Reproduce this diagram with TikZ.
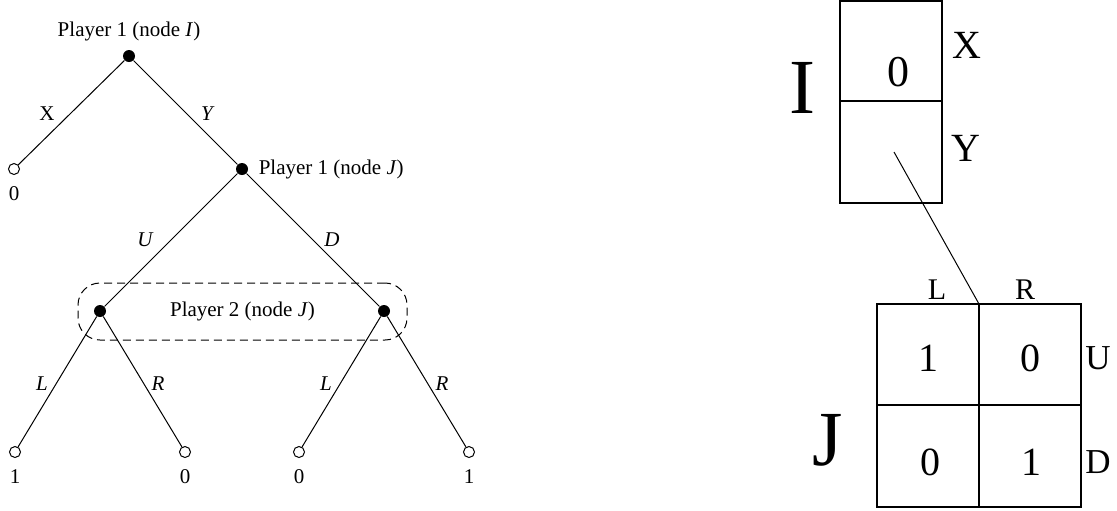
\documentclass[tikz,border=0pt]{standalone}
\usepackage{fontspec}
\setmainfont{Liberation Serif}
\usetikzlibrary{positioning}
\tikzset{
  decnode/.style={circle, fill=black, inner sep=0pt, minimum size=6pt},
  endnode/.style={circle, draw=black, fill=white, inner sep=0pt, minimum size=5.5pt, line width=0.5pt},
  branch/.style={line width=0.5pt},
  treetext/.style={font=\fontsize{10.5}{12}\selectfont, inner sep=1pt},
  acttext/.style={font=\fontsize{10.5}{12}\selectfont\itshape, inner sep=1pt},
  payoff/.style={font=\fontsize{10.5}{12}\selectfont, inner sep=1pt},
  infoset/.style={draw, dashed, dash pattern=on 4pt off 2.5pt, rounded corners=11pt,
                  minimum width=164.5pt, minimum height=28.5pt, line width=0.5pt,
                  font=\fontsize{10.5}{12}\selectfont},
  bigname/.style={font=\fontsize{39}{40}\selectfont, inner sep=0pt},
  movename/.style={font=\fontsize{20}{22}\selectfont, inner sep=0pt},
  colname/.style={font=\fontsize{15}{17}\selectfont, inner sep=0pt},
  rowname/.style={font=\fontsize{17.5}{19}\selectfont, inner sep=0pt},
  cellval/.style={font=\fontsize{20}{22}\selectfont, inner sep=0pt},
  boxline/.style={line width=1pt},
  gridline/.style={line width=0.75pt}}

\begin{document}
\begin{tikzpicture}[x=0.5pt, y=-0.5pt]
  \useasboundingbox (0,0) rectangle (1117,510);

  % game tree
  \node[decnode] (rootI) at (129,56) {};
  \node[treetext] (rootlab) at (129,31) {Player 1 (node \textit{I})};
  \node[endnode] (leafX) at (14,169) {};
  \node[payoff, below=4.5pt of leafX] (payX) {0};
  \node[decnode] (nodeJ) at (242,169) {};
  \node[treetext, right=4pt of nodeJ] (nodeJlab) {Player 1 (node \textit{J})};
  \node[infoset] (p2set) at (242.5,311.5) {Player 2 (node \textit{J})};
  \node[decnode] (p2up) at (100,311) {};
  \node[decnode] (p2dn) at (384,311) {};
  \node[endnode] (leafUL) at (15,452) {};
  \node[endnode] (leafUR) at (185,452) {};
  \node[endnode] (leafDL) at (299,452) {};
  \node[endnode] (leafDR) at (469,452) {};
  \node[payoff, below=4.5pt of leafUL] (payUL) {1};
  \node[payoff, below=4.5pt of leafUR] (payUR) {0};
  \node[payoff, below=4.5pt of leafDL] (payDL) {0};
  \node[payoff, below=4.5pt of leafDR] (payDR) {1};

  \draw[branch] (rootI) -- (leafX);
  \draw[branch] (rootI) -- (nodeJ);
  \draw[branch] (nodeJ) -- (p2up);
  \draw[branch] (nodeJ) -- (p2dn);
  \draw[branch] (p2up) -- (leafUL);
  \draw[branch] (p2up) -- (leafUR);
  \draw[branch] (p2dn) -- (leafDL);
  \draw[branch] (p2dn) -- (leafDR);

  \node[treetext] (actX) at (47,114) {X};
  \node[acttext] (actY) at (207,114) {Y};
  \node[acttext] (actU) at (145,240) {U};
  \node[acttext] (actD) at (332,240) {D};
  \node[acttext] (actL1) at (42,384) {L};
  \node[acttext] (actR1) at (158,384) {R};
  \node[acttext] (actL2) at (326,384) {L};
  \node[acttext] (actR2) at (442,384) {R};

  % node I as a column
  \draw[boxline] (840,1) rectangle (942,203);
  \draw[boxline] (840,101) -- (942,101);
  \node[bigname] (bigI) at (802,88) {I};
  \node[cellval, font=\fontsize{22}{24}\selectfont] (valX) at (898,72) {0};
  \node[movename] (movX) at (967,45) {X};
  \node[movename] (movY) at (966,148) {Y};
  \coordinate (cellY) at (894,152);

  % node J as a matrix
  \draw[gridline] (877,304) rectangle (1081,507);
  \draw[gridline] (979,304) -- (979,507);
  \draw[gridline] (877,405) -- (1081,405);
  \coordinate (topJ) at (979,304);
  \node[bigname] (bigJ) at (828,440) {J};
  \node[colname] (colL) at (937,290) {L};
  \node[colname] (colR) at (1025,290) {R};
  \node[rowname] (rowU) at (1098,358) {U};
  \node[rowname] (rowD) at (1098,462) {D};
  \node[cellval] (valUL) at (928,358) {1};
  \node[cellval] (valUR) at (1030,358) {0};
  \node[cellval] (valDL) at (930,462) {0};
  \node[cellval] (valDR) at (1031,462) {1};

  \draw[branch] (cellY) -- (topJ);
\end{tikzpicture}
\end{document}
